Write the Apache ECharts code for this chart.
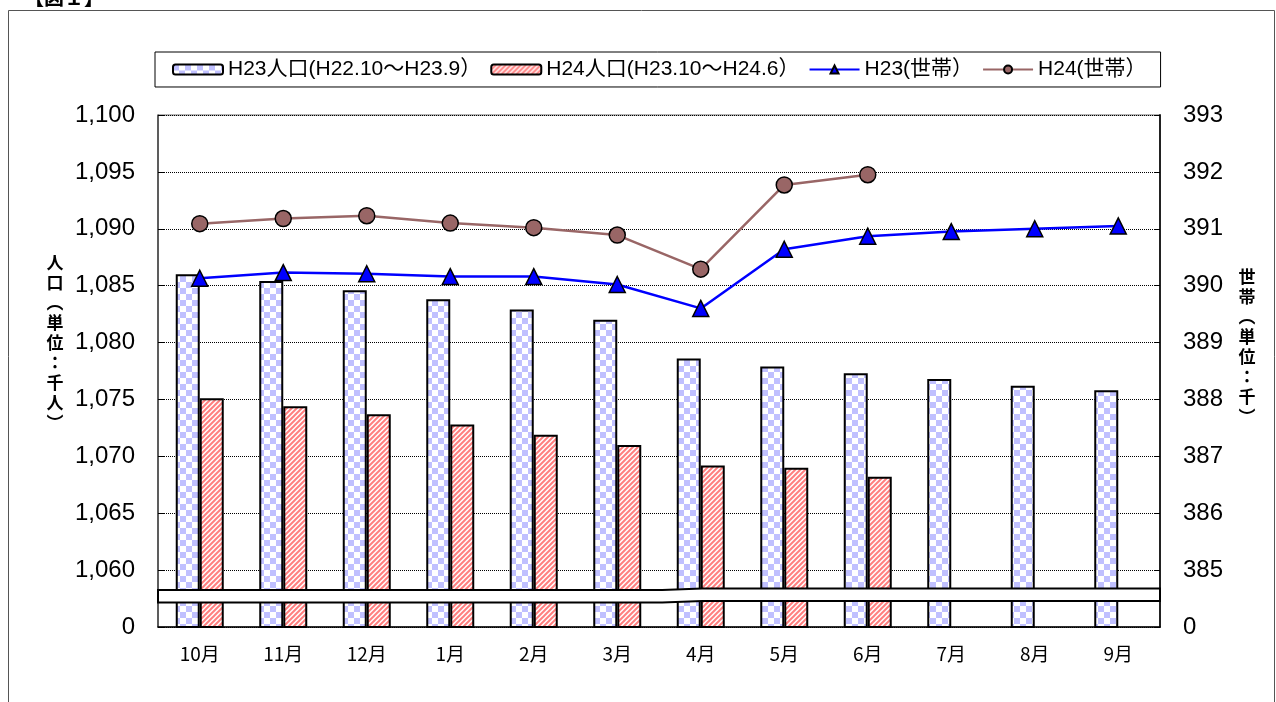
<!DOCTYPE html>
<html><head><meta charset="utf-8">
<script src="https://cdn.jsdelivr.net/npm/echarts@6/dist/echarts.min.js"></script>
<style>html,body{margin:0;padding:0;background:#fff}#c{width:1276px;height:702px}</style>
</head><body><div id="c"></div>
<script>
// ---- data ----
const categories = ['10月','11月','12月','1月','2月','3月','4月','5月','6月','7月','8月','9月'];
const h23Pop = [1086.0,1085.4,1084.6,1083.8,1082.9,1082.0,1078.6,1077.9,1077.3,1076.8,1076.2,1075.8];
const h24Pop = [1075.1,1074.4,1073.7,1072.8,1071.9,1071.0,1069.2,1069.0,1068.2,0,0,0];
const h23Hh = [390.13,390.23,390.21,390.16,390.16,390.02,389.60,390.64,390.87,390.95,391.00,391.05];
const h24Hh = [391.09,391.18,391.23,391.10,391.02,390.89,390.29,391.77,391.95,null,null,null];
const seriesNames = ['H23人口(H22.10～H23.9）','H24人口(H23.10～H24.6）','H23(世帯）','H24(世帯）'];
const leftAxis = {min:1055, max:1100, interval:5, zeroAt:1055};
const rightAxis = {min:384, max:393, interval:1, zeroAt:384};
const leftName = '人口（単位：千人）';
const rightName = '世帯（単位：千）';
const figTitle = '【図１】';

// ---- patterns ----
function checker(){
  const c=document.createElement('canvas'); c.width=12; c.height=12;
  const g=c.getContext('2d');
  g.fillStyle='#fff'; g.fillRect(0,0,12,12);
  g.fillStyle='#c0c0ff'; g.fillRect(0,0,6,6); g.fillRect(6,6,6,6);
  return c;
}
function stripes(){
  const s=5; const c=document.createElement('canvas'); c.width=s; c.height=s;
  const g=c.getContext('2d');
  g.fillStyle='#fff'; g.fillRect(0,0,s,s);
  g.strokeStyle='#ff7f7f'; g.lineWidth=2;
  [[0,s,s,0],[-s/2,s/2,s/2,-s/2],[s/2,3*s/2,3*s/2,s/2]].forEach(p=>{g.beginPath();g.moveTo(p[0],p[1]);g.lineTo(p[2],p[3]);g.stroke();});
  return c;
}
const vert = t => t.replace('（','︵').replace('）','︶').split('').join('\n');
const fmtNum = v => String(v).replace(/\B(?=(\d{3})+(?!\d))/g, ',');
const LATIN = '"Liberation Sans","Noto Sans CJK JP",sans-serif';
const CJK = '"Noto Sans CJK JP",sans-serif';
const G = {left:158, right:116, top:115, bottom:75};

const chart = echarts.init(document.getElementById('c'), null, {renderer:'canvas'});
chart.setOption({
  animation:false,
  backgroundColor:'#fff',
  grid:{left:G.left, right:G.right, top:G.top, bottom:G.bottom, show:true, borderColor:'#666', borderWidth:1, backgroundColor:'transparent'},
  legend:{
    left:155, top:52, padding:[7,14,7,17], borderColor:'#000', borderWidth:1, backgroundColor:'#fff',
    itemWidth:50, itemHeight:10, itemGap:9,
    textStyle:{fontSize:21, fontFamily:LATIN, color:'#000'},
    data:seriesNames
  },
  xAxis:{
    type:'category', data:categories,
    axisLine:{lineStyle:{color:'#000', width:1.5}},
    axisTick:{show:false},
    axisLabel:{fontSize:19, fontFamily:CJK, color:'#000', margin:17}
  },
  yAxis:[
    {type:'value', min:leftAxis.min, max:leftAxis.max, interval:leftAxis.interval, position:'left',
     axisLine:{show:true, lineStyle:{color:'#404040', width:1.5}},
     axisTick:{show:true, inside:true, length:6, lineStyle:{color:'#000'}},
     axisLabel:{fontSize:24, fontFamily:LATIN, color:'#000', margin:23,
       formatter:v => v===leftAxis.zeroAt ? '0' : fmtNum(v)},
     splitLine:{show:true, lineStyle:{color:'#000', type:[1,1], width:1}}
    },
    {type:'value', min:rightAxis.min, max:rightAxis.max, interval:rightAxis.interval, position:'right',
     axisLine:{show:true, lineStyle:{color:'#222', width:2}},
     axisTick:{show:true, inside:true, length:6, lineStyle:{color:'#000'}},
     axisLabel:{fontSize:24, fontFamily:LATIN, color:'#000', margin:23,
       formatter:v => v===rightAxis.zeroAt ? '0' : String(v)},
     splitLine:{show:false}
    }
  ],
  series:[
    {name:seriesNames[0], type:'bar', barWidth:24, barGap:'0%', yAxisIndex:0,
     itemStyle:{color:{image:checker(), repeat:'repeat'}, borderColor:'#000', borderWidth:2},
     data:h23Pop.map(v=>Math.max(v, leftAxis.min))},
    {name:seriesNames[1], type:'bar', barWidth:24, barGap:'0%', yAxisIndex:0, barMinHeight:1,
     itemStyle:{color:{image:stripes(), repeat:'repeat'}, borderColor:'#000', borderWidth:2},
     data:h24Pop.map(v=>Math.max(v, leftAxis.min))},
    {name:seriesNames[2], type:'line', yAxisIndex:1, symbol:'triangle', symbolSize:16, z:5,
     lineStyle:{color:'#0000ff', width:2.5},
     itemStyle:{color:'#0000ff', borderColor:'#000', borderWidth:1.5},
     data:h23Hh},
    {name:seriesNames[3], type:'line', yAxisIndex:1, symbol:'circle', symbolSize:16, z:5,
     lineStyle:{color:'#996666', width:2.5},
     itemStyle:{color:'#996666', borderColor:'#000', borderWidth:1.5},
     data:h24Hh}
  ]
});

// decorations: frame, title, axis names, axis-break band
const W = chart.getWidth(), H = chart.getHeight();
const xl = G.left, xr = W - G.right;
const bTop = chart.convertToPixel({yAxisIndex:0}, 1058.25);
const bBot = chart.convertToPixel({yAxisIndex:0}, 1057.15);
const xm1 = chart.convertToPixel({xAxisIndex:0}, '3月') + 45;
const xm2 = xm1 + 40;
chart.setOption({
  graphic:[
    {type:'rect', silent:true, z:-10, shape:{x:8.5, y:10.5, width:1266, height:720}, style:{fill:'none', stroke:'#555', lineWidth:1}},
    {type:'text', silent:true, z:10, x:24, y:-13, style:{text:figTitle, font:'bold 20px '+CJK, fill:'#000', textVerticalAlign:'top'}},
    {type:'text', silent:true, z:10, x:55, y:343, style:{text:vert(leftName), font:'bold 17px '+CJK, lineHeight:20, fill:'#000', textAlign:'center', textVerticalAlign:'middle'}},
    {type:'text', silent:true, z:10, x:1247, y:347, style:{text:vert(rightName), font:'bold 17px '+CJK, lineHeight:20, fill:'#000', textAlign:'center', textVerticalAlign:'middle'}},
    {type:'polygon', silent:true, z:100, shape:{points:[[xl,bTop],[xm1,bTop],[xm2,bTop-1.5],[xr,bTop-1.5],[xr,bBot-1.5],[xm2,bBot-1.5],[xm1,bBot],[xl,bBot]]},
     style:{fill:'#fff', stroke:'#000', lineWidth:2}}
  ]
});
</script></body></html>
